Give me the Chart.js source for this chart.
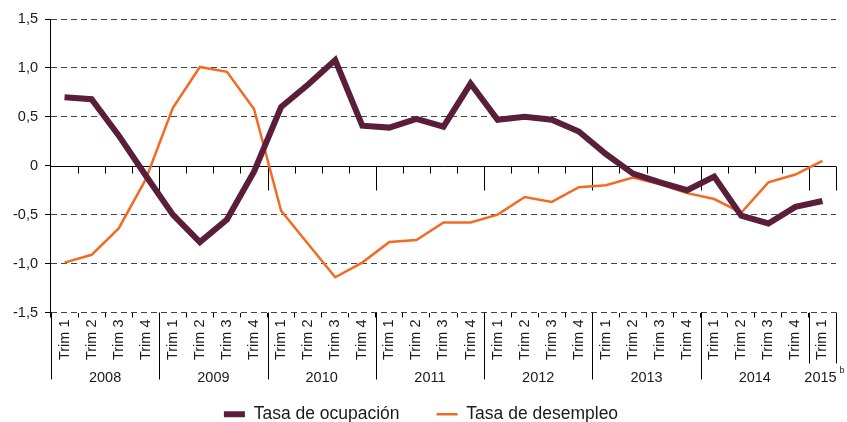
<!DOCTYPE html>
<html>
<head>
<meta charset="utf-8">
<script src="https://cdn.jsdelivr.net/npm/chart.js@4.4.1/dist/chart.umd.min.js"></script>
<style>
  html, body { margin: 0; padding: 0; background: #fff; }
  #wrap { width: 847px; height: 422px; }
</style>
</head>
<body>
<div id="wrap"><canvas id="empleoChart"></canvas></div>
<script>
// quarters 2008 T1 .. 2015 T1
const quarters = [
  'Trim 1', 'Trim 2', 'Trim 3', 'Trim 4',
  'Trim 1', 'Trim 2', 'Trim 3', 'Trim 4',
  'Trim 1', 'Trim 2', 'Trim 3', 'Trim 4',
  'Trim 1', 'Trim 2', 'Trim 3', 'Trim 4',
  'Trim 1', 'Trim 2', 'Trim 3', 'Trim 4',
  'Trim 1', 'Trim 2', 'Trim 3', 'Trim 4',
  'Trim 1', 'Trim 2', 'Trim 3', 'Trim 4',
  'Trim 1'
];
const years = ['2008', '2009', '2010', '2011', '2012', '2013', '2014', '2015'];
const quartersPerYear = [4, 4, 4, 4, 4, 4, 4, 1];
const yearNotes = ['', '', '', '', '', '', '', 'b'];

const ocupacion = [0.70, 0.68, 0.31, -0.10, -0.50, -0.78, -0.55, -0.06, 0.60, 0.83, 1.08, 0.41, 0.39, 0.48,
  0.40, 0.84, 0.47, 0.50, 0.47, 0.35, 0.12, -0.08, -0.17, -0.25, -0.11, -0.51, -0.59, -0.42, -0.36];
const desempleo = [-0.99, -0.91, -0.64, -0.14, 0.59, 1.01, 0.96, 0.58, -0.46, -0.80, -1.14, -0.99, -0.78, -0.76,
  -0.58, -0.58, -0.50, -0.32, -0.37, -0.22, -0.20, -0.12, -0.19, -0.28, -0.34, -0.48, -0.17, -0.09, 0.05];

const yMin = -1.5;
const yMax = 1.5;
const yStep = 0.5;

const fontFamily = "'Liberation Sans', Arial, sans-serif";
Chart.defaults.font.family = fontFamily;
Chart.defaults.color = '#1a1a1a';

function boundary(x, i, area) {
    if (i <= 0) return area.left;
    if (i >= quarters.length) return area.right;
    return (x.getPixelForValue(i - 1) + x.getPixelForValue(i)) / 2;
}

function yearStarts() {
    const starts = [];
    let s = 0;
    quartersPerYear.forEach(c => { starts.push(s); s += c; });
    return starts;
}

// zero axis with its ticks, plus the year row under the quarter labels
const axisExtras = {
    id: 'axisExtras',
    beforeDatasetsDraw(chart) {
        const {ctx, chartArea, scales: {x, y}} = chart;
        const y0 = Math.round(y.getPixelForValue(0)) + 0.5;
        const starts = yearStarts();
        ctx.save();
        ctx.strokeStyle = '#000';
        ctx.lineWidth = 1;
        ctx.beginPath();
        ctx.moveTo(chartArea.left, y0);
        ctx.lineTo(chartArea.right, y0);
        for (let i = 1; i <= quarters.length; i++) {
            const bx = Math.round(boundary(x, i, chartArea)) + 0.5;
            const long = starts.includes(i) || i === quarters.length;
            ctx.moveTo(bx, y0);
            ctx.lineTo(bx, y0 + (long ? 24 : 7));
        }
        ctx.stroke();
        ctx.restore();
    },
    afterDraw(chart) {
        const {ctx, chartArea, scales: {x}} = chart;
        const top = chartArea.bottom;
        const starts = yearStarts();
        ctx.save();
        ctx.strokeStyle = '#000';
        ctx.lineWidth = 1;
        ctx.beginPath();
        starts.forEach((s, k) => {
            const bx = Math.round(boundary(x, s, chartArea)) + 0.5;
            const len = quartersPerYear[k] < 4 ? 51 : 67;
            ctx.moveTo(bx, top);
            ctx.lineTo(bx, top + len);
        });
        const endX = Math.round(boundary(x, quarters.length, chartArea)) + 0.5;
        ctx.moveTo(endX, top);
        ctx.lineTo(endX, top + 51);
        ctx.stroke();

        ctx.fillStyle = '#1a1a1a';
        ctx.textBaseline = 'middle';
        starts.forEach((s, k) => {
            const cx = (boundary(x, s, chartArea) + boundary(x, s + quartersPerYear[k], chartArea)) / 2;
            ctx.font = '14.5px ' + fontFamily;
            ctx.textAlign = 'center';
            ctx.fillText(years[k], cx - (yearNotes[k] ? 2 : 0), top + 65);
            if (yearNotes[k]) {
                const w = ctx.measureText(years[k]).width;
                ctx.font = '9px ' + fontFamily;
                ctx.textAlign = 'left';
                ctx.fillText(yearNotes[k], cx - 2 + w / 2 + 3, top + 58);
            }
        });
        ctx.restore();
    }
};

const ctx = document.getElementById('empleoChart').getContext('2d');
new Chart(ctx, {
    type: 'line',
    data: {
        labels: quarters,
        datasets: [{
            label: 'Tasa de ocupación',
            data: ocupacion,
            borderColor: '#5a1e3a',
            backgroundColor: '#5a1e3a',
            borderWidth: 6,
            borderJoinStyle: 'miter',
            pointRadius: 0,
            tension: 0,
            fill: false
        }, {
            label: 'Tasa de desempleo',
            data: desempleo,
            borderColor: '#f26a24',
            backgroundColor: '#f26a24',
            borderWidth: 2.5,
            pointRadius: 0,
            tension: 0,
            fill: false
        }]
    },
    options: {
        responsive: true,
        maintainAspectRatio: false,
        animation: false,
        devicePixelRatio: 1,
        layout: {
            padding: {top: 19, left: 6, right: 11, bottom: -11}
        },
        plugins: {
            tooltip: {enabled: false},
            legend: {
                position: 'bottom',
                labels: {
                    usePointStyle: true,
                    pointStyle: 'line',
                    pointStyleWidth: 21,
                    padding: 2,
                    color: '#1a1a1a',
                    font: {size: 17.5},
                    generateLabels(chart) {
                        const items = Chart.defaults.plugins.legend.labels.generateLabels(chart);
                        items.forEach((item, i) => {
                            if (i < items.length - 1) item.text = item.text + '\u2003\u2003';
                        });
                        return items;
                    }
                }
            }
        },
        scales: {
            x: {
                offset: true,
                grid: {
                    offset: true,
                    drawOnChartArea: false,
                    tickLength: 5,
                    color: '#000'
                },
                border: {display: false},
                ticks: {
                    autoSkip: false,
                    minRotation: 90,
                    maxRotation: 90,
                    padding: 2,
                    color: '#1a1a1a',
                    font: {size: 14.5}
                },
                afterFit(scale) {
                    scale.height = 91;
                }
            },
            y: {
                min: yMin,
                max: yMax,
                ticks: {
                    stepSize: yStep,
                    padding: 7,
                    color: '#1a1a1a',
                    font: {size: 14.5},
                    callback: v => v === 0 ? '0' : v.toFixed(1).replace('.', ',')
                },
                grid: {
                    color: c => c.tick && c.tick.value === 0 ? 'rgba(0,0,0,0)' : '#444',
                    tickColor: '#000',
                    tickLength: 6,
                    tickBorderDash: []
                },
                border: {
                    display: true,
                    color: '#000',
                    width: 1,
                    dash: [6, 4]
                }
            }
        }
    },
    plugins: [axisExtras]
});
</script>
</body>
</html>
